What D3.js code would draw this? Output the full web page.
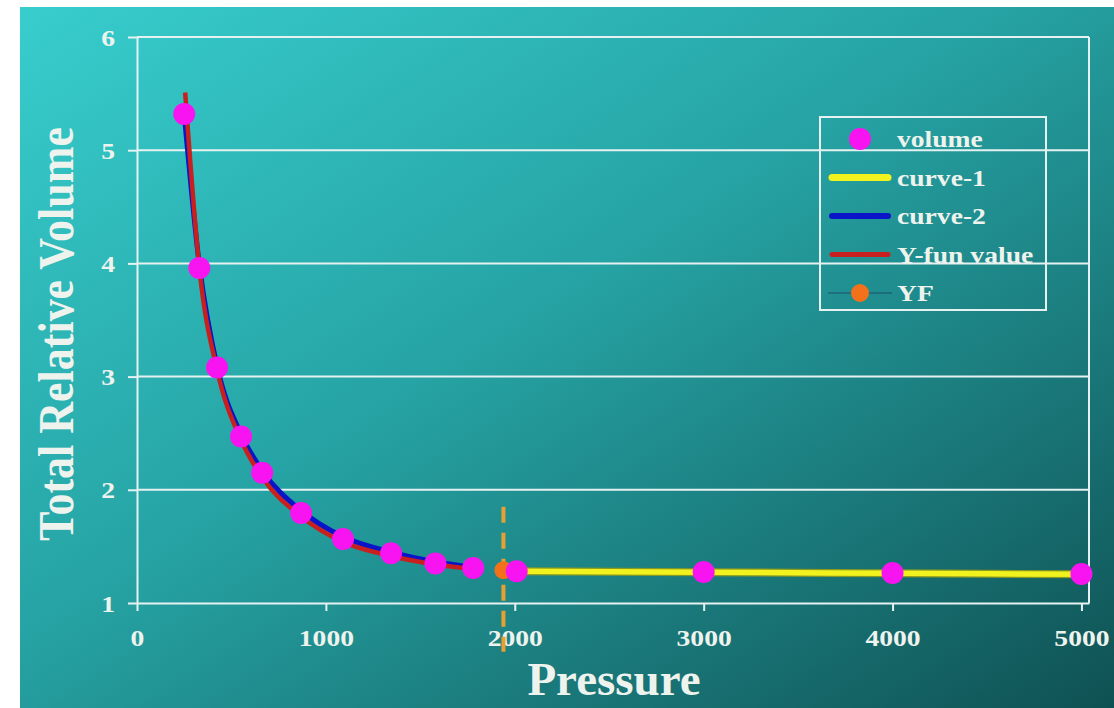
<!DOCTYPE html>
<html>
<head>
<meta charset="utf-8">
<script src="https://cdn.jsdelivr.net/npm/d3@7"></script>
<style>
  html, body { margin: 0; padding: 0; background: #fff; }
  svg { display: block; }
  text { font-family: "Liberation Serif", "Times New Roman", serif; font-weight: bold; fill: #eef3ee; }
</style>
</head>
<body>
<svg id="chart"></svg>
<script>
// measured points (volume)
const volumePressure = [250, 330, 424, 551, 663, 869, 1091, 1345, 1580, 1780, 2010, 3000, 4000, 5000];
const volumeValue = [5.32, 3.96, 3.08, 2.47, 2.15, 1.795, 1.565, 1.44, 1.35, 1.31, 1.28, 1.274, 1.265, 1.256];

// curve-1 (above bubble point)
const curve1Pressure = [2010, 3000, 4000, 5000];
const curve1Value = [1.28, 1.272, 1.263, 1.254];

// curve-2
const curve2Pressure = [250, 332, 424, 551, 663, 869, 1091, 1345, 1580, 1780];
const curve2Value = [5.32, 3.96, 3.09, 2.49, 2.17, 1.815, 1.585, 1.45, 1.365, 1.315];

// Y-fun value
const yFunPressure = [255, 332, 424, 551, 663, 869, 1091, 1345, 1580, 1780];
const yFunValue = [5.51, 3.93, 3.06, 2.44, 2.11, 1.765, 1.54, 1.415, 1.34, 1.30];

// YF point and its marker line
const yfPressure = [1940];
const yfValue = [1.29];
const yfLineRange = [1.85, 0.57];

const xTicks = [0, 1000, 2000, 3000, 4000, 5000];
const yTicks = [1, 2, 3, 4, 5, 6];
const legendItems = ['volume', 'curve-1', 'curve-2', 'Y-fun value', 'YF'];

const width = 1114, height = 708;
const SX = 1.15; // text is a bit wide in the picture

const svg = d3.select('#chart').attr('width', width).attr('height', height);

const defs = svg.append('defs');
const grad = defs.append('linearGradient').attr('id', 'bg')
  .attr('x1', 0).attr('y1', 0).attr('x2', 1).attr('y2', 1);
grad.append('stop').attr('offset', '0%').attr('stop-color', '#38cdcd');
grad.append('stop').attr('offset', '45%').attr('stop-color', '#26a3a4');
grad.append('stop').attr('offset', '100%').attr('stop-color', '#0f5153');

svg.append('rect').attr('x', 20).attr('y', 7)
  .attr('width', width - 20).attr('height', height - 7)
  .attr('fill', 'url(#bg)');

const x = d3.scaleLinear().domain([0, 5040]).range([137, 1089]);
const y = d3.scaleLinear().domain([1, 6]).range([603, 37]);

const lineColor = '#e6f2f2';

// gridlines
svg.append('g').selectAll('line')
  .data(yTicks.slice(1))
  .enter().append('line')
  .attr('x1', x.range()[0]).attr('x2', x.range()[1])
  .attr('y1', d => y(d)).attr('y2', d => y(d))
  .attr('stroke', lineColor).attr('stroke-width', 2);

// right frame
svg.append('line')
  .attr('x1', x.range()[1]).attr('x2', x.range()[1])
  .attr('y1', y(6)).attr('y2', y(1))
  .attr('stroke', lineColor).attr('stroke-width', 2);

// axes
const xAxis = svg.append('g')
  .attr('transform', `translate(0,${y(1)})`)
  .call(d3.axisBottom(x).tickValues(xTicks).tickFormat(d3.format('d')).tickSize(8).tickSizeOuter(0));
xAxis.selectAll('path, line').attr('stroke', lineColor).attr('stroke-width', 2);
xAxis.selectAll('text')
  .attr('y', 43).attr('dy', 0)
  .attr('transform', `scale(${SX},1)`)
  .style('font-size', '24px')
  .attr('fill', '#eef3ee');

const yAxis = svg.append('g')
  .attr('transform', `translate(${x(0)},0)`)
  .call(d3.axisLeft(y).tickValues(yTicks).tickFormat(d3.format('d')).tickSize(9).tickSizeOuter(0));
yAxis.selectAll('path, line').attr('stroke', lineColor).attr('stroke-width', 2);
yAxis.selectAll('text')
  .attr('x', -22 / SX).attr('dy', 8)
  .attr('transform', `scale(${SX},1)`)
  .style('font-size', '24px')
  .attr('fill', '#eef3ee');

// curves
const line = d3.line().x(d => x(d[0])).y(d => y(d[1])).curve(d3.curveMonotoneX);
const zip = (a, b) => a.map((v, i) => [v, b[i]]);

svg.append('path').datum(zip(curve2Pressure, curve2Value))
  .attr('d', line).attr('fill', 'none')
  .attr('stroke', '#0a14c8').attr('stroke-width', 5);

svg.append('path').datum(zip(yFunPressure, yFunValue))
  .attr('d', line).attr('fill', 'none')
  .attr('stroke', '#c8201e').attr('stroke-width', 4.5);

svg.append('path').datum(zip(curve1Pressure, curve1Value))
  .attr('d', line).attr('fill', 'none')
  .attr('stroke', '#8a9a20').attr('stroke-width', 8);
svg.append('path').datum(zip(curve1Pressure, curve1Value))
  .attr('d', line).attr('fill', 'none')
  .attr('stroke', '#f2f21e').attr('stroke-width', 5.5);

// YF marker line
svg.append('line')
  .attr('x1', x(yfPressure[0])).attr('x2', x(yfPressure[0]))
  .attr('y1', y(yfLineRange[0])).attr('y2', y(yfLineRange[1]))
  .attr('stroke', '#e8a032').attr('stroke-width', 4)
  .attr('stroke-dasharray', '16,10');

// YF point
svg.append('g').selectAll('circle')
  .data(zip(yfPressure, yfValue))
  .enter().append('circle')
  .attr('cx', d => x(d[0])).attr('cy', d => y(d[1]))
  .attr('r', 9).attr('fill', '#f2711a');

// volume points
svg.append('g').selectAll('circle')
  .data(zip(volumePressure, volumeValue))
  .enter().append('circle')
  .attr('cx', d => x(d[0])).attr('cy', d => y(d[1]))
  .attr('r', 11).attr('fill', '#f814f0');

// axis titles
svg.append('text')
  .attr('x', 614).attr('y', 695)
  .attr('text-anchor', 'middle')
  .style('font-size', '47px')
  .text('Pressure');

svg.append('text')
  .attr('transform', `translate(73,334) rotate(-90) scale(1,${SX})`)
  .attr('text-anchor', 'middle')
  .style('font-size', '44px')
  .text('Total Relative Volume');

// legend
const legend = svg.append('g');
legend.append('rect')
  .attr('x', 820).attr('y', 117).attr('width', 226).attr('height', 193)
  .attr('fill', 'none').attr('stroke', lineColor).attr('stroke-width', 2);

const rowY = d3.scalePoint().domain(legendItems).range([139, 293]);

legend.append('circle').attr('cx', 860).attr('cy', rowY('volume')).attr('r', 11).attr('fill', '#f814f0');
legend.append('line').attr('x1', 832).attr('x2', 888)
  .attr('y1', rowY('curve-1')).attr('y2', rowY('curve-1'))
  .attr('stroke', '#f2f21e').attr('stroke-width', 7).attr('stroke-linecap', 'round');
legend.append('line').attr('x1', 832).attr('x2', 888)
  .attr('y1', rowY('curve-2')).attr('y2', rowY('curve-2'))
  .attr('stroke', '#0a14c8').attr('stroke-width', 6).attr('stroke-linecap', 'round');
legend.append('line').attr('x1', 832).attr('x2', 888)
  .attr('y1', rowY('Y-fun value')).attr('y2', rowY('Y-fun value'))
  .attr('stroke', '#c8201e').attr('stroke-width', 5).attr('stroke-linecap', 'round');
legend.append('line').attr('x1', 828).attr('x2', 892)
  .attr('y1', rowY('YF')).attr('y2', rowY('YF'))
  .attr('stroke', '#1d4f6e').attr('stroke-width', 1.2);
legend.append('circle').attr('cx', 860).attr('cy', rowY('YF')).attr('r', 9).attr('fill', '#f2711a');

legend.selectAll('text.item')
  .data(legendItems)
  .enter().append('text')
  .attr('class', 'item')
  .attr('transform', d => `translate(897,${rowY(d) + 8}) scale(${SX},1)`)
  .style('font-size', '24px')
  .text(d => d);
</script>
</body>
</html>
